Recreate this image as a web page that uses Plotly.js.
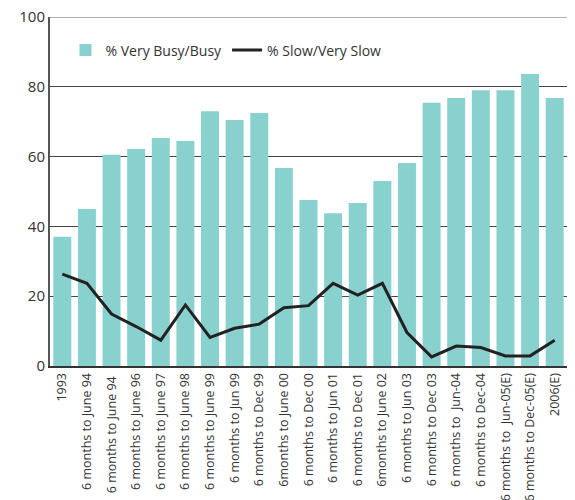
<!DOCTYPE html>
<html><head><meta charset="utf-8">
<script src="https://cdn.plot.ly/plotly-3.0.1.min.js"></script>
<style>html,body{margin:0;padding:0;background:#fff}#chart{width:575px;height:500px}</style>
</head><body><div id="chart"></div>
<script>
const categories = ["1993","6 months to June 94","6 months to June 94 ","6 months to June 96","6 months to June 97","6 months to June 98","6 months to June 99","6 months to Jun 99","6 months to Dec 99","6months to June 00","6 months to Dec 00","6 months to Jun 01","6 months to Dec 01","6months to June 02","6 months to Jun 03","6 months to Dec 03","6 months to  Jun-04","6 months to Dec-04","6 months to  Jun-05(E)","6 months to Dec-05(E)","2006(E)"];
const busy = [37, 45, 60.5, 62.2, 65.3, 64.5, 73, 70.5, 72.5, 56.7, 47.6, 43.8, 46.7, 53, 58.2, 75.4, 76.8, 79, 79, 83.7, 76.8];
const slow = [26.3, 23.7, 14.9, 11.3, 7.4, 17.5, 8.2, 10.8, 12, 16.7, 17.3, 23.7, 20.3, 23.7, 9.6, 2.6, 5.7, 5.3, 2.9, 2.9, 7.4];
const yTicks = [0, 20, 40, 60, 80, 100];

const font = "'Open Sans', 'Noto Sans', sans-serif";
const data = [
  {type:"bar", x:categories, y:busy, name:"% Very Busy/Busy", marker:{color:"#88D1CE"}, hoverinfo:"none"},
  {type:"scatter", mode:"lines", x:categories, y:slow, name:"% Slow/Very Slow", line:{color:"#222222", width:3}, hoverinfo:"none"}
];
const layout = {
  width:575, height:500,
  margin:{l:50, r:8, t:17, b:134},
  paper_bgcolor:"#fff", plot_bgcolor:"#fff",
  font:{family:font, color:"#333", size:12},
  bargap:0.27,
  showlegend:true,
  legend:{orientation:"h", x:0.03, y:0.95, xanchor:"left", yanchor:"top", font:{size:14, color:"#333"}, bgcolor:"rgba(0,0,0,0)", traceorder:"normal", itemwidth:30},
  xaxis:{type:"category", tickangle:-90, tickfont:{size:12.5, color:"#333"}, showgrid:false, showline:true, linecolor:"#333", linewidth:2, ticks:"", automargin:false},
  yaxis:{range:[0,100], tickvals:yTicks, ticktext:yTicks.map(String), tickfont:{size:15, color:"#333"}, showgrid:true, gridcolor:"#444", gridwidth:1, showline:true, linecolor:"#555", linewidth:2, ticks:"", zeroline:false, automargin:false, fixedrange:true},
  shapes:[{type:"line", xref:"paper", yref:"y", x0:0, x1:1, y0:100, y1:100, line:{color:"#999", width:1.5}}]
};
Plotly.newPlot("chart", data, layout, {staticPlot:true, displayModeBar:false});
</script></body></html>
